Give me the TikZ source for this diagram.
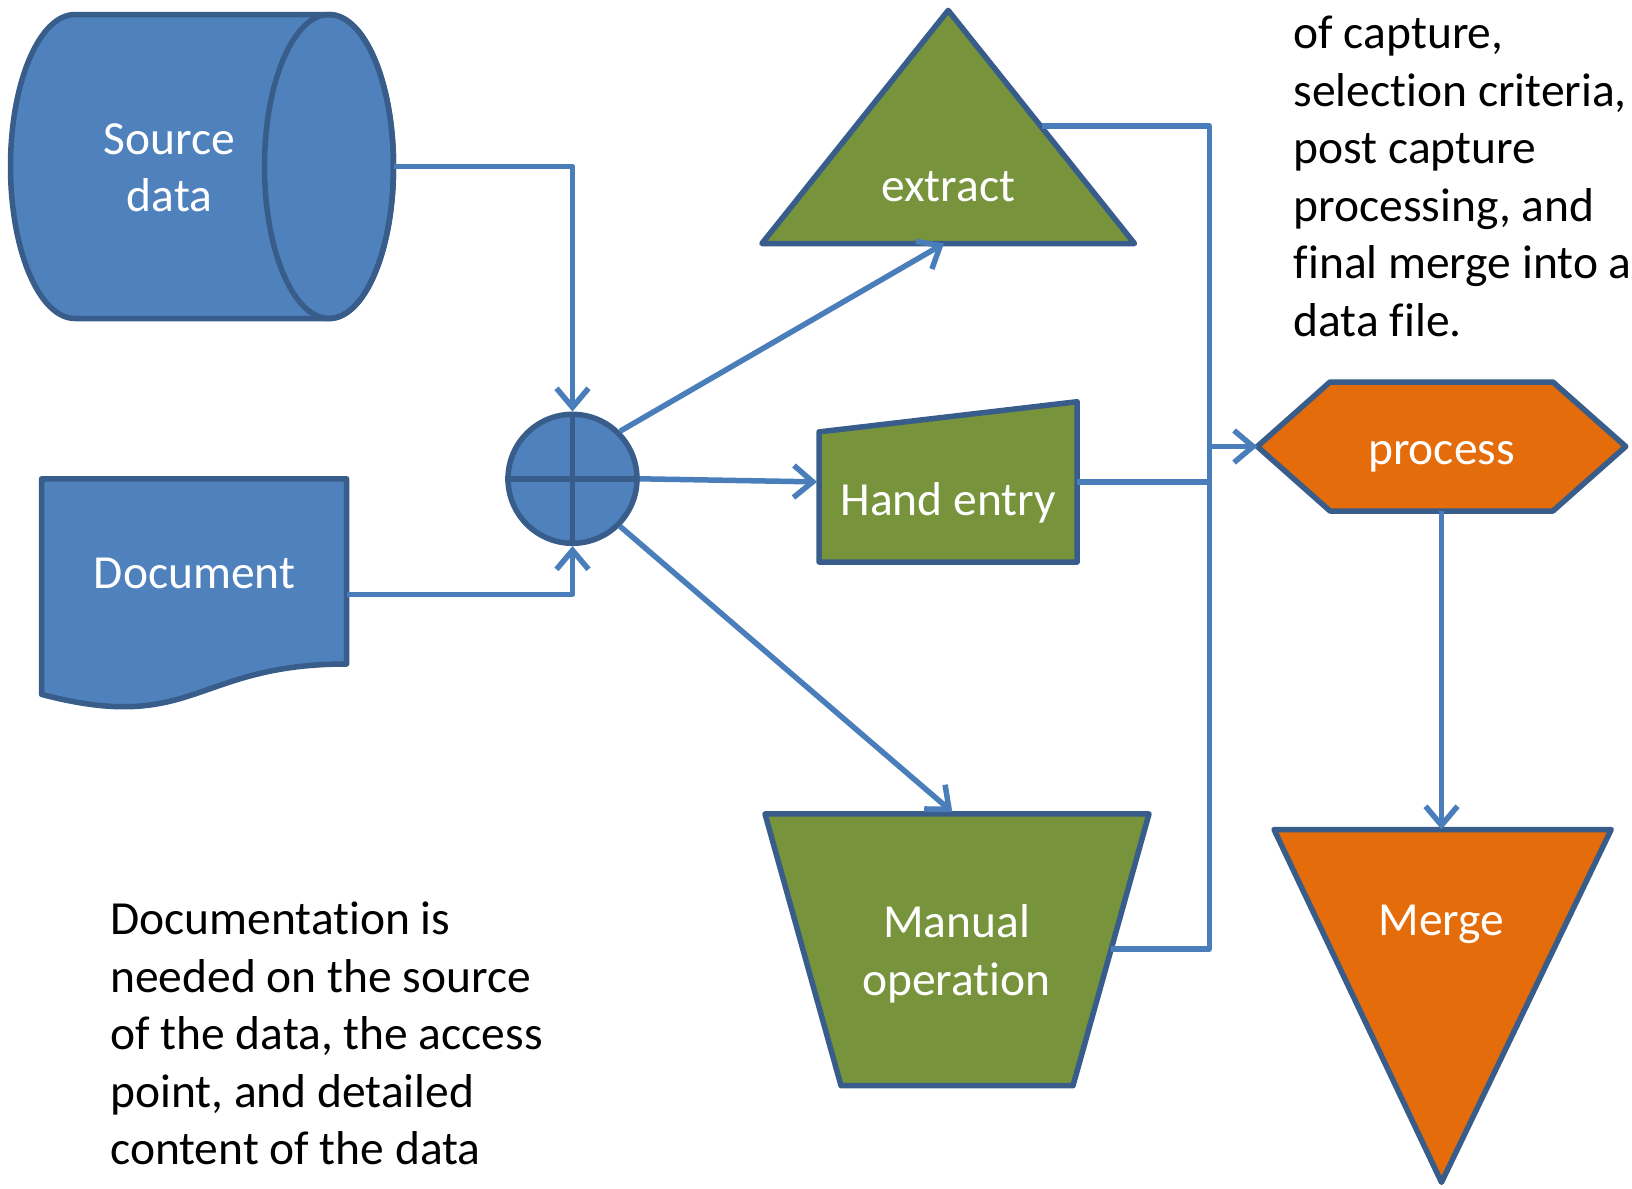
\documentclass[tikz,border=0pt]{standalone}
\usepackage{fontspec}
\setmainfont{Carlito}[Ligatures=NoCommon]
\usepackage{tikz}
\usetikzlibrary{arrows.meta}

\begin{document}
\begin{tikzpicture}[x=1pt,y=-1pt,line join=round,
	shapeline/.style={draw=custcol_38_5d_8a, line width=5.5pt},
	wire/.style={draw=custcol_4a_7e_bb, line width=5.5pt},
	wirearrow/.style={wire, -{Straight Barb[length=19pt,width=32pt]}},
	whitelabel/.style={inner sep=0, outer sep=0, white, align=center, font=\fontsize{47.5pt}{57.5pt}\selectfont},
	notetext/.style={inner sep=0, outer sep=0, black, align=left, font=\fontsize{47.5pt}{57.5pt}\selectfont}]
					\definecolor{custcol_4f_81_bd}{RGB}{79, 129, 189}
					\definecolor{custcol_38_5d_8a}{RGB}{56, 93, 138}
					\definecolor{custcol_4a_7e_bb}{RGB}{74, 126, 187}
					\definecolor{custcol_77_93_3c}{RGB}{119, 147, 60}
					\definecolor{custcol_e4_6c_0a}{RGB}{228, 108, 10}
					\fill [white] (0,0) rectangle (1632,1188);
					\useasboundingbox (0,0) rectangle (1632,1188);
					% source data (cylinder)
					\draw [shapeline, fill=custcol_4f_81_bd] (75.0,14.6) -- (329.0,14.6) arc[start angle=-90, end angle=90, x radius=64.5, y radius=152.0] -- (75.0,318.5) arc[start angle=90, end angle=270, x radius=64.5, y radius=152.0] -- cycle;
					\draw [shapeline] (329.0,166.5) ellipse [x radius=64.5, y radius=152.0];
					\node[whitelabel] (srcdata) at (169.6,168.0) {Source\\data};
					\coordinate (srcout) at (393.5,166.5);
					% document
					\draw [shapeline, fill=custcol_4f_81_bd] (41.6,478.8) -- (346.6,478.8) -- (346.6,664.0) .. controls (194.1,664.0) and (194.1,734.5) .. (41.6,694.4) -- cycle;
					\node[whitelabel] (doc) at (194.6,573.0) {Document};
					\coordinate (docout) at (346.6,594.3);
					% summing junction
					\node[circle, minimum size=129pt, inner sep=0, shapeline, fill=custcol_4f_81_bd] (sum) at (572.5,478.8) {};
					\draw [shapeline] (sum.north) -- (sum.south) (sum.west) -- (sum.east);
					% extract
					\draw [shapeline, fill=custcol_77_93_3c] (948.2,10.4) -- (1134.5,243.5) -- (761.9,243.5) -- cycle;
					\node[whitelabel] (extract) at (948.2,186.5) {extract};
					\coordinate (extin) at (944.0,243.5);
					\coordinate (extout) at (1041.5,126.0);
					% hand entry
					\draw [shapeline, fill=custcol_77_93_3c] (819.1,431.9) -- (1077.2,401.7) -- (1077.2,562.0) -- (819.1,562.0) -- cycle;
					\node[whitelabel] (hand) at (948.2,502.5) {Hand entry};
					\coordinate (handin) at (817.0,481.9);
					\coordinate (handout) at (1077.2,481.9);
					% manual operation
					\draw [shapeline, fill=custcol_77_93_3c] (765.0,813.9) -- (1149.0,813.9) -- (1073.0,1085.6) -- (841.0,1085.6) -- cycle;
					\node[whitelabel] (manual) at (956.5,954.0) {Manual\\operation};
					\coordinate (manin) at (952.3,812.0);
					\coordinate (manout) at (1111.2,949.0);
					% process
					\draw [shapeline, fill=custcol_e4_6c_0a] (1257.3,446.5) -- (1330.0,382.0) -- (1552.9,382.0) -- (1625.7,446.5) -- (1552.9,511.0) -- (1330.0,511.0) -- cycle;
					\node[whitelabel] (process) at (1441.5,456.5) {process};
					\coordinate (procin) at (1257.3,446.5);
					\coordinate (procout) at (1441.5,511.0);
					% merge
					\draw [shapeline, fill=custcol_e4_6c_0a] (1274.0,829.5) -- (1611.2,829.5) -- (1441.5,1182.3) -- cycle;
					\node[whitelabel] (merge) at (1441.5,924.0) {Merge};
					\coordinate (mergein) at (1441.5,829.5);
					% connectors
					\coordinate (bus) at (1209.4,446.5);
					\draw [wirearrow] (srcout) -| (sum.north);
					\draw [wirearrow] (docout) -| (sum.south);
					\draw [wirearrow] (sum.45) -- (extin);
					\draw [wirearrow] (sum.east) -- (handin);
					\draw [wirearrow] (sum.-45) -- (manin);
					\draw [wire] (extout) -| (bus) |- (manout);
					\draw [wire] (handout) -- (handout -| bus);
					\draw [wirearrow] (bus) -- (procin);
					\draw [wirearrow] (procout) -- (mergein);
					% notes
					\node[notetext, anchor=base west] (docnote) at (110.3,1164.5) {Documentation is\\needed on the source\\of the data, the access\\point, and detailed\\content of the data};
					\node[notetext, anchor=base west] (procnote) at (1293.7,336.0) {of capture,\\selection criteria,\\post capture\\processing, and\\final merge into a\\data file.};
\end{tikzpicture}
\end{document}
